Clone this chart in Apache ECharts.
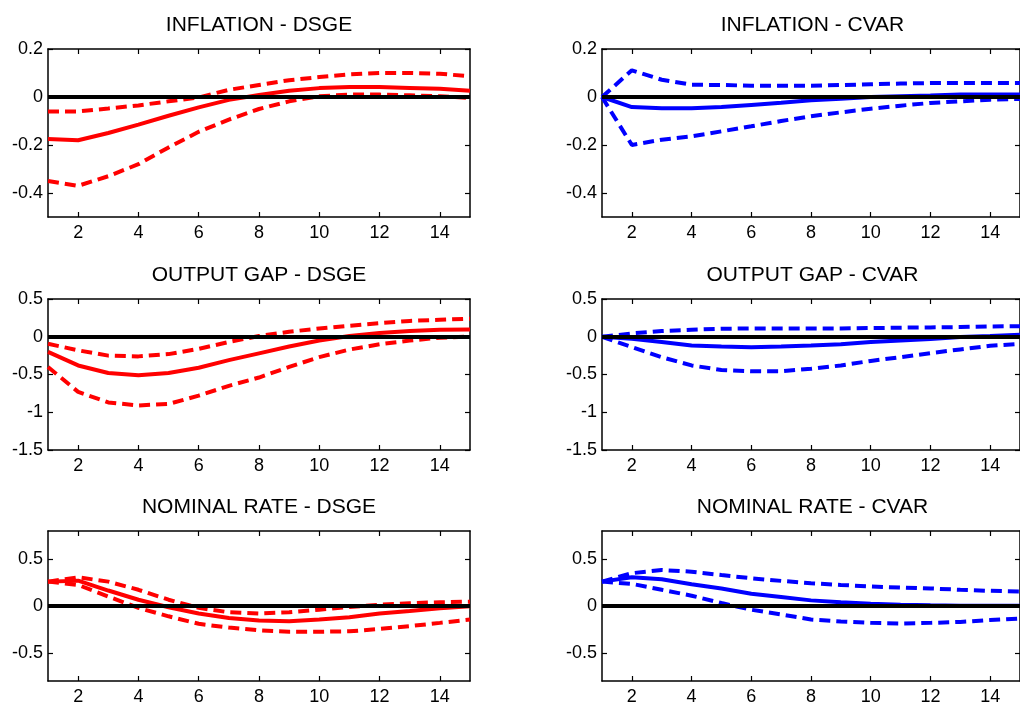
<!DOCTYPE html>
<html>
<head>
<meta charset="utf-8">
<title>Impulse responses - DSGE vs CVAR</title>
<script src="https://cdn.jsdelivr.net/npm/echarts@6/dist/echarts.min.js"></script>
<style>
  html, body { margin: 0; padding: 0; background: #fff; }
  #chart { width: 1020px; height: 707px; }
</style>
</head>
<body>
<div id="chart"></div>
<script>
// horizon (quarters)
const steps = [1, 2, 3, 4, 5, 6, 7, 8, 9, 10, 11, 12, 13, 14, 15];
const xTicks = [2, 4, 6, 8, 10, 12, 14];

// inflation
const infDsgeMid = [-0.175, -0.18, -0.15, -0.115, -0.078, -0.043, -0.012, 0.008, 0.026, 0.037, 0.042, 0.042, 0.038, 0.034, 0.026];
const infDsgeUp  = [-0.06, -0.06, -0.048, -0.035, -0.018, -0.002, 0.03, 0.05, 0.07, 0.083, 0.094, 0.1, 0.1, 0.097, 0.086];
const infDsgeLo  = [-0.35, -0.37, -0.33, -0.28, -0.21, -0.145, -0.094, -0.05, -0.018, 0.003, 0.01, 0.01, 0.007, 0.003, -0.004];
const infCvarMid = [0, -0.042, -0.047, -0.047, -0.042, -0.033, -0.024, -0.014, -0.007, 0, 0.003, 0.006, 0.01, 0.01, 0.01];
const infCvarUp  = [0, 0.111, 0.072, 0.051, 0.05, 0.047, 0.047, 0.047, 0.05, 0.053, 0.056, 0.058, 0.058, 0.058, 0.058];
const infCvarLo  = [0, -0.2, -0.178, -0.164, -0.143, -0.122, -0.1, -0.08, -0.064, -0.049, -0.036, -0.025, -0.018, -0.011, -0.008];
const infTicks = [-0.4, -0.2, 0, 0.2];

// output gap
const gapDsgeMid = [-0.2, -0.38, -0.48, -0.51, -0.48, -0.41, -0.31, -0.22, -0.13, -0.05, 0.01, 0.05, 0.075, 0.093, 0.097];
const gapDsgeUp  = [-0.093, -0.18, -0.25, -0.26, -0.23, -0.16, -0.07, 0.01, 0.066, 0.11, 0.146, 0.18, 0.21, 0.225, 0.24];
const gapDsgeLo  = [-0.4, -0.73, -0.87, -0.91, -0.89, -0.78, -0.65, -0.54, -0.4, -0.27, -0.17, -0.1, -0.05, -0.013, 0.004];
const gapCvarMid = [0, -0.027, -0.07, -0.115, -0.128, -0.14, -0.128, -0.115, -0.1, -0.07, -0.05, -0.03, -0.004, 0.01, 0.027];
const gapCvarUp  = [0, 0.044, 0.075, 0.093, 0.106, 0.11, 0.11, 0.11, 0.11, 0.115, 0.12, 0.124, 0.128, 0.137, 0.14];
const gapCvarLo  = [0, -0.137, -0.27, -0.38, -0.44, -0.456, -0.456, -0.425, -0.38, -0.32, -0.27, -0.217, -0.168, -0.12, -0.093];
const gapTicks = [-1.5, -1, -0.5, 0, 0.5];

// nominal rate
const rateDsgeMid = [0.26, 0.27, 0.165, 0.067, -0.014, -0.08, -0.127, -0.155, -0.162, -0.144, -0.12, -0.08, -0.053, -0.025, -0.004];
const rateDsgeUp  = [0.26, 0.306, 0.26, 0.173, 0.067, -0.02, -0.067, -0.08, -0.067, -0.04, -0.01, 0.014, 0.03, 0.04, 0.046];
const rateDsgeLo  = [0.26, 0.225, 0.1, -0.02, -0.11, -0.19, -0.23, -0.26, -0.275, -0.275, -0.27, -0.245, -0.215, -0.18, -0.144];
const rateCvarMid = [0.26, 0.306, 0.285, 0.232, 0.187, 0.13, 0.095, 0.06, 0.039, 0.025, 0.014, 0.007, 0.004, 0.004, 0.004];
const rateCvarUp  = [0.26, 0.35, 0.384, 0.366, 0.33, 0.296, 0.268, 0.243, 0.225, 0.208, 0.197, 0.187, 0.173, 0.162, 0.155];
const rateCvarLo  = [0.26, 0.236, 0.173, 0.11, 0.032, -0.04, -0.09, -0.144, -0.165, -0.18, -0.187, -0.18, -0.17, -0.15, -0.134];
const rateTicks = [-0.5, 0, 0.5];

const RED = '#ff0000';
const BLUE = '#0000ff';

// panel layout: grid boxes in pixels
const colLeft = [48, 602];
const colWidth = [422, 421];
const rowTop = [49, 299, 531];
const rowHeight = [168, 151, 150];
const titleTop = [15, 265, 497];

const panels = [
  { title: 'INFLATION - DSGE',    row: 0, col: 0, color: RED,  mid: infDsgeMid,  up: infDsgeUp,  lo: infDsgeLo,  min: -0.5, max: 0.2, ticks: infTicks },
  { title: 'INFLATION - CVAR',    row: 0, col: 1, color: BLUE, mid: infCvarMid,  up: infCvarUp,  lo: infCvarLo,  min: -0.5, max: 0.2, ticks: infTicks },
  { title: 'OUTPUT GAP - DSGE',   row: 1, col: 0, color: RED,  mid: gapDsgeMid,  up: gapDsgeUp,  lo: gapDsgeLo,  min: -1.5, max: 0.5, ticks: gapTicks },
  { title: 'OUTPUT GAP - CVAR',   row: 1, col: 1, color: BLUE, mid: gapCvarMid,  up: gapCvarUp,  lo: gapCvarLo,  min: -1.5, max: 0.5, ticks: gapTicks },
  { title: 'NOMINAL RATE - DSGE', row: 2, col: 0, color: RED,  mid: rateDsgeMid, up: rateDsgeUp, lo: rateDsgeLo, min: -0.8, max: 0.8, ticks: rateTicks },
  { title: 'NOMINAL RATE - CVAR', row: 2, col: 1, color: BLUE, mid: rateCvarMid, up: rateCvarUp, lo: rateCvarLo, min: -0.8, max: 0.8, ticks: rateTicks }
];

const FONT = '"Liberation Sans", Arial, Helvetica, sans-serif';
const pairs = vals => steps.map((s, i) => [s, vals[i]]);

const titles = [];
const grids = [];
const xAxes = [];
const yAxes = [];
const series = [];

const frameLine = { show: true, onZero: false, lineStyle: { color: '#000', width: 1.5 } };
const innerTick = values => ({ show: true, inside: true, length: 5, customValues: values, lineStyle: { color: '#000', width: 1.2 } });

panels.forEach((p, i) => {
  const left = colLeft[p.col];
  const width = colWidth[p.col];

  titles.push({
    text: p.title,
    left: left + width / 2,
    top: titleTop[p.row],
    textAlign: 'center',
    padding: 0,
    textStyle: { fontFamily: FONT, fontSize: 21, fontWeight: 'normal', color: '#000' }
  });

  grids.push({ left: left, top: rowTop[p.row], width: width, height: rowHeight[p.row] });

  // bottom + mirrored top x axis
  xAxes.push({
    type: 'value', gridIndex: i, min: 1, max: 15, position: 'bottom',
    axisLine: frameLine, axisTick: innerTick(xTicks), splitLine: { show: false },
    axisLabel: { customValues: xTicks, margin: 7, fontFamily: FONT, fontSize: 18, color: '#000' }
  });
  xAxes.push({
    type: 'value', gridIndex: i, min: 1, max: 15, position: 'top',
    axisLine: frameLine, axisTick: innerTick(xTicks), splitLine: { show: false },
    axisLabel: { show: false }
  });

  // left + mirrored right y axis
  yAxes.push({
    type: 'value', gridIndex: i, min: p.min, max: p.max, position: 'left',
    axisLine: frameLine, axisTick: innerTick(p.ticks), splitLine: { show: false },
    axisLabel: { customValues: p.ticks, margin: 5, fontFamily: FONT, fontSize: 18, color: '#000' }
  });
  yAxes.push({
    type: 'value', gridIndex: i, min: p.min, max: p.max, position: 'right',
    axisLine: frameLine, axisTick: innerTick(p.ticks), splitLine: { show: false },
    axisLabel: { show: false }
  });

  const xi = 2 * i;
  const yi = 2 * i;
  const base = { type: 'line', xAxisIndex: xi, yAxisIndex: yi, symbol: 'none', silent: true, animation: false };

  series.push(Object.assign({}, base, {
    name: p.title + ' upper', data: pairs(p.up),
    lineStyle: { color: p.color, width: 4, type: [11, 6] }
  }));
  series.push(Object.assign({}, base, {
    name: p.title + ' lower', data: pairs(p.lo),
    lineStyle: { color: p.color, width: 4, type: [11, 6] }
  }));
  series.push(Object.assign({}, base, {
    name: p.title + ' median', data: pairs(p.mid),
    lineStyle: { color: p.color, width: 4 },
    markLine: {
      silent: true, symbol: 'none', animation: false,
      label: { show: false },
      lineStyle: { color: '#000', width: 4, type: 'solid' },
      data: [{ yAxis: 0 }]
    }
  }));
});

const chart = echarts.init(document.getElementById('chart'), null, { renderer: 'canvas' });
chart.setOption({
  backgroundColor: '#fff',
  animation: false,
  title: titles,
  grid: grids,
  xAxis: xAxes,
  yAxis: yAxes,
  series: series
});

window.addEventListener('resize', () => chart.resize());
</script>
</body>
</html>
